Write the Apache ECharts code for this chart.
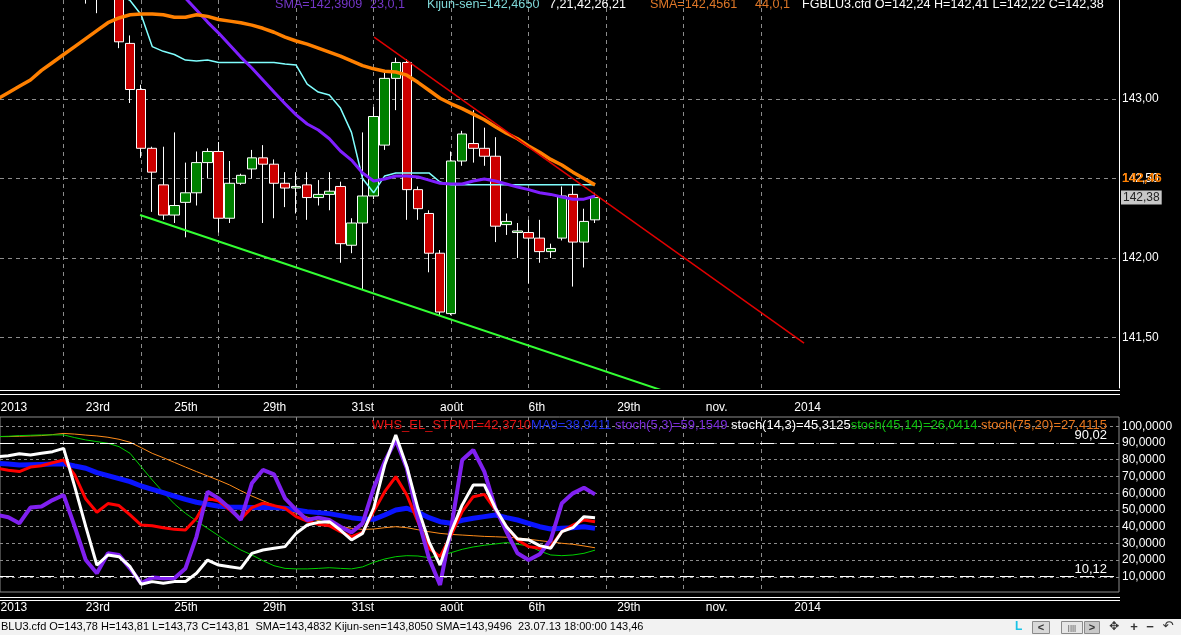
<!DOCTYPE html>
<html>
<head>
<meta charset="utf-8">
<title>FGBLU3.cfd</title>
<script src="https://cdn.jsdelivr.net/npm/echarts@6/dist/echarts.min.js"></script>
<style>
html,body{margin:0;padding:0;background:#000;overflow:hidden;}
#chart{width:1181px;height:635px;}
</style>
</head>
<body>
<div id="chart"></div>
<script>
// ================= DATA =================
// candle index (bar number) and OHLC prices
const candleK = [7,8,9,10,11,12,13,14,15,16,17,18,19,20,21,22,23,24,25,26,27,28,29,30,31,32,33,34,35,36,37,38,39,40,41,42,43,44,45,46,47,48,49,50,51,52,53];
const openP  = [143.75,143.80,143.72,143.70,143.35,143.06,142.69,142.46,142.27,142.35,142.41,142.60,142.67,142.25,142.47,142.56,142.63,142.59,142.47,142.44,142.46,142.38,142.40,142.45,142.08,142.22,142.39,142.71,143.13,143.23,142.43,142.28,142.03,141.65,142.61,142.72,142.69,142.64,142.21,142.16,142.16,142.125,142.04,142.125,142.40,142.10,142.24];
const highP  = [143.85,143.86,143.80,143.75,143.40,143.09,142.70,142.70,142.79,142.60,142.67,142.69,142.73,142.61,142.53,142.68,142.71,142.62,142.54,142.54,142.54,142.49,142.54,142.48,142.25,142.79,142.95,143.18,143.26,143.25,142.45,142.30,142.05,142.67,142.80,142.93,142.82,142.76,142.28,142.22,142.24,142.24,142.09,142.45,142.46,142.31,142.41];
const lowP   = [143.60,143.54,143.66,143.32,142.975,142.63,142.29,142.24,142.22,142.13,142.33,142.50,142.16,142.22,142.46,142.50,142.22,142.25,142.32,142.28,142.24,142.33,142.30,141.97,142.03,141.80,142.37,142.68,142.93,142.24,142.24,141.91,141.64,141.64,142.58,142.60,142.58,142.10,142.145,142.00,141.84,141.97,142.00,142.11,141.82,141.94,142.22];
const closeP = [143.80,143.72,143.70,143.36,143.06,142.69,142.54,142.27,142.33,142.41,142.60,142.67,142.25,142.47,142.52,142.63,142.59,142.47,142.44,142.45,142.38,142.40,142.42,142.09,142.22,142.39,142.89,143.13,143.23,142.43,142.31,142.03,141.66,142.61,142.78,142.69,142.64,142.20,142.23,142.17,142.125,142.04,142.06,142.39,142.10,142.23,142.38];

// SMA 44 (orange), first value at bar -1
const sma44Start = -1;
const sma44 = [143.00,143.04,143.08,143.12,143.18,143.23,143.28,143.33,143.38,143.43,143.48,143.51,143.53,143.535,143.535,143.53,143.515,143.515,143.53,143.52,143.50,143.49,143.48,143.465,143.445,143.42,143.39,143.365,143.345,143.32,143.295,143.27,143.24,143.21,143.19,143.175,143.17,143.15,143.105,143.055,143.005,142.97,142.94,142.905,142.87,142.825,142.785,142.75,142.705,142.665,142.62,142.585,142.54,142.50,142.46];

// SMA 23 (purple), first value at bar 14
const sma23Start = 14;
const sma23 = [143.79,143.71,143.635,143.56,143.484,143.415,143.34,143.264,143.195,143.12,143.044,142.97,142.90,142.843,142.805,142.75,142.673,142.616,142.535,142.484,142.497,142.516,142.516,142.51,142.49,142.47,142.465,142.465,142.484,142.497,142.484,142.465,142.446,142.43,142.41,142.40,142.384,142.37,142.37,142.39];

// Kijun-sen (cyan), first value at bar 9
const kijunStart = 9;
const kijun = [143.75,143.66,143.62,143.53,143.33,143.30,143.28,143.245,143.24,143.245,143.23,143.23,143.23,143.23,143.23,143.23,143.22,143.214,143.094,143.044,143.025,142.943,142.79,142.50,142.41,142.516,142.535,142.535,142.535,142.535,142.478,142.46,142.46,142.46,142.46,142.46,142.46,142.46,142.46,142.46,142.46,142.46,142.46,142.46,142.46];

// trend lines [bar, price]
const resistanceLine = [[33.04,143.39],[71.88,141.465]];
const supportLine = [[11.9,142.27],[62,141.098]];

// oscillators, first value at bar -1
const oscStart = -1;
const whsStpmt = [74.9,73.7,72.9,75.6,76.4,78.2,79.8,70.9,56.5,48.6,53.8,52.6,47.0,41.0,40.6,39.4,38.4,38.0,45.0,56.9,55.3,50.0,44.6,51.4,54.0,52.6,51.0,46.0,43.4,41.4,40.6,37.0,34.1,36.6,49.0,60.9,69.9,58.9,43.0,27.1,22.1,35.0,49.0,57.9,59.3,50.0,40.0,32.1,28.1,27.1,28.1,37.0,41.0,44.0,43.0];
const ma9 = [77.8,77.4,76.8,77.0,77.2,77.4,77.6,76.2,74.9,72.3,70.5,68.7,66.9,64.3,62.3,60.3,58.3,56.3,54.6,53.4,52.2,51.8,51.6,51.4,51.4,51.4,51.0,50.0,49.0,48.4,47.8,46.6,45.4,44.6,44.4,47.0,50.0,51.0,48.6,45.4,43.0,42.0,43.8,45.0,46.0,47.0,45.4,44.0,42.0,40.0,38.6,39.0,39.4,40.0,39.0];
const stoch5 = [47.0,45.6,42.0,51.4,52.0,55.9,58.9,40.0,20.1,12.2,24.1,23.1,15.1,6.2,9.6,9.2,9.2,15.1,34.1,60.9,56.9,51.0,44.0,65.9,73.9,71.3,56.9,50.0,44.0,45.4,44.0,40.0,36.6,42.0,62.9,78.8,91.8,74.9,45.0,21.1,5.2,39.0,79.8,85.8,72.9,51.0,37.0,24.1,20.1,23.5,32.1,54.0,59.9,63.3,59.3];
const stoch14 = [81.8,82.4,83.6,82.8,83.8,84.8,86.8,63.9,40.0,17.1,23.1,22.1,16.1,5.6,7.2,6.2,7.2,7.2,12.2,20.1,17.1,16.1,15.1,24.1,26.1,27.1,28.1,36.0,41.0,42.6,43.0,38.0,32.1,36.0,51.0,76.8,94.7,75.8,51.0,31.1,17.1,37.0,53.0,64.9,64.9,51.0,40.0,32.7,32.1,28.7,27.1,37.0,39.4,46.0,45.4];
const stoch45 = [93.8,94.0,94.4,94.6,94.8,94.8,94.8,93.2,91.8,90.8,89.8,87.8,83.8,75.8,67.9,60.5,53.6,48.0,43.4,39.0,34.6,30.1,26.1,23.1,19.7,16.7,15.1,14.8,14.8,15.1,15.5,15.1,14.8,16.0,18.7,20.7,22.1,22.7,22.5,21.5,22.7,24.5,26.5,27.9,28.9,29.7,30.5,29.5,28.5,25.5,23.1,22.7,23.1,24.1,26.0];
const stoch75 = [93.8,93.8,94.0,94.2,94.4,95.0,95.7,95.3,94.7,94.2,93.4,92.2,90.4,87.2,83.8,81.2,78.4,75.6,72.9,70.3,67.7,64.9,61.5,58.3,55.5,52.8,50.2,48.0,45.8,43.6,41.8,40.2,39.0,38.4,38.6,39.4,40.0,39.4,38.2,37.0,36.0,35.4,35.0,34.6,34.2,34.0,33.7,33.3,32.5,31.7,30.9,30.1,29.5,28.5,27.4];
const oscLevels = [90.02, 10.12];

// ticks / labels
const dateTickK = [5,12,19,26,33,40,47,54,61,68];
const dateLabelK = [-0.7,7,15,23,31,39,47,55,63,71];
const dateLabels = ['2013','23rd','25th','29th','31st','août','6th','29th','nov.','2014'];
const priceTicks = [141.5,142,142.5,143];
const oscTicks = [10,20,30,40,50,60,70,80,90,100];

// ================= CHART =================
const X_MIN = -0.75, X_MAX = 100.33;
const FONT = '"Liberation Sans", Arial, sans-serif';
const toPairs = (start, arr) => arr.map((v, i) => [start + i, v]);
const comma = (v, d) => v.toFixed(d).replace('.', ',');

function xAxisFor(gridIndex, margin) {
  return {
    type: 'value', gridIndex, min: X_MIN, max: X_MAX,
    axisLine: {show: false, onZero: false},
    axisTick: {show: false, customValues: dateTickK},
    axisLabel: {
      customValues: dateLabelK, color: '#fff', fontSize: 12, fontFamily: FONT,
      align: 'left', margin,
      formatter: v => { const i = dateLabelK.indexOf(v); return i >= 0 ? dateLabels[i] : ''; }
    },
    splitLine: {show: true, lineStyle: {color: '#8c8c8c', width: 1, type: [4, 4]}}
  };
}

const chart = echarts.init(document.getElementById('chart'), null, {renderer: 'canvas', width: 1181, height: 635});

const lineS = (name, xi, data, color, width, extra) => Object.assign({
  type: 'line', name, xAxisIndex: xi, yAxisIndex: xi, data,
  showSymbol: false, symbol: 'none', clip: true, silent: true,
  lineStyle: {color, width}
}, extra || {});

const option = {
  backgroundColor: '#000',
  animation: false,
  grid: [
    {left: 0, top: 0, width: 1119, height: 388, containLabel: false, outerBoundsMode: 'none'},
    {left: 0, top: 417, width: 1119, height: 175, show: true, borderColor: '#8c8c8c', borderWidth: 1,
     backgroundColor: 'rgba(0,0,0,0)', containLabel: false, outerBoundsMode: 'none'}
  ],
  xAxis: [xAxisFor(0, 14), xAxisFor(1, 10)],
  yAxis: [
    {type: 'value', gridIndex: 0, position: 'right', min: 141.182, max: 143.623, scale: true,
     axisLine: {show: true, onZero: false, lineStyle: {color: '#ffffff', width: 1}},
     axisTick: {show: false, customValues: priceTicks},
     axisLabel: {customValues: priceTicks, color: '#fff', fontSize: 12, fontFamily: FONT, margin: 3,
                 formatter: v => comma(v, 2)},
     splitLine: {show: true, lineStyle: {color: '#8c8c8c', width: 1, type: [4, 4]}}},
    {type: 'value', gridIndex: 1, position: 'right', min: 1, max: 105.5,
     axisLine: {show: false, onZero: false},
     axisTick: {show: false, customValues: oscTicks},
     axisLabel: {customValues: oscTicks, color: '#fff', fontSize: 12, fontFamily: FONT, margin: 3,
                 formatter: v => comma(v, 4)},
     splitLine: {show: true, lineStyle: {color: '#8c8c8c', width: 1, type: [3, 3]}}}
  ],
  series: [
    {type: 'candlestick', name: 'FGBLU3.cfd', xAxisIndex: 0, yAxisIndex: 0, clip: true, silent: true,
     encode: {x: 0, y: [1, 2, 3, 4]},
     barWidth: 10,
     data: candleK.map((k, i) => [k, openP[i], closeP[i], lowP[i], highP[i]]),
     itemStyle: {color: '#008000', color0: '#CC0000', borderColor: '#ffffff', borderColor0: '#ffffff', borderWidth: 1}},
    lineS('Kijun-sen', 0, toPairs(kijunStart, kijun), '#80FFFF', 1.5),
    lineS('SMA 23', 0, toPairs(sma23Start, sma23), '#7F1FFF', 3),
    lineS('SMA 44', 0, toPairs(sma44Start, sma44), '#FF8000', 3.5),
    lineS('resistance', 0, resistanceLine, '#E00000', 1.5),
    lineS('support', 0, supportLine, '#33FF33', 2),

    lineS('stoch(75,20)', 1, toPairs(oscStart, stoch75), '#FF8C1A', 1),
    lineS('stoch(45,14)', 1, toPairs(oscStart, stoch45), '#00D000', 1),
    lineS('MA9', 1, toPairs(oscStart, ma9), '#0A14FF', 5),
    lineS('WHS_EL_STPMT', 1, toPairs(oscStart, whsStpmt), '#FF0000', 3),
    lineS('stoch(5,3)', 1, toPairs(oscStart, stoch5), '#8020F0', 4),
    lineS('stoch(14,3)', 1, toPairs(oscStart, stoch14), '#FFFFFF', 3, {
      markLine: {
        silent: true, symbol: ['none', 'none'],
        lineStyle: {color: '#ffffff', width: 1, type: [14, 6]},
        label: {position: 'insideEndTop', color: '#fff', fontSize: 13, fontFamily: FONT, distance: [12, 1],
                formatter: p => comma(p.value, 2)},
        data: oscLevels.map(v => ({yAxis: v}))
      }
    })
  ]
};
chart.setOption(option);

// ---------- texts / chrome ----------
function T(x, y, text, fill, font, extra) {
  return {type: 'text', x, y, silent: true, z: 100,
    style: Object.assign({text, fill, font, textAlign: 'left', align: 'left',
      textVerticalAlign: 'middle', verticalAlign: 'middle'}, extra || {})};
}
const F13 = '13px ' + FONT, F12 = '12px ' + FONT, F11 = '11px ' + FONT, FTOP = '12.6px ' + FONT;
const lastClose = closeP[closeP.length - 1];
const lastSma = sma44[sma44.length - 1];
const yClose = chart.convertToPixel({gridIndex: 0}, [X_MAX, lastClose])[1];
const ySma = chart.convertToPixel({gridIndex: 0}, [X_MAX, lastSma])[1];

const legendRich = {
  r: {fill: '#E01010', font: F13},
  b: {fill: '#1E2EE8', font: F13},
  p: {fill: '#7A2CD8', font: F13},
  w: {fill: '#FFFFFF', font: F13},
  g: {fill: '#10C010', font: F13},
  o: {fill: '#E8761C', font: F13}
};

const graphics = [
  // separators
  {type: 'line', silent: true, shape: {x1: 0, y1: 390.5, x2: 1120, y2: 390.5}, style: {stroke: '#fff', lineWidth: 1}},
  {type: 'line', silent: true, shape: {x1: 0, y1: 394.5, x2: 1120, y2: 394.5}, style: {stroke: '#fff', lineWidth: 1}},
  {type: 'line', silent: true, shape: {x1: 0, y1: 597.5, x2: 1120, y2: 597.5}, style: {stroke: '#fff', lineWidth: 1}},
  {type: 'line', silent: true, shape: {x1: 0, y1: 600.5, x2: 1120, y2: 600.5}, style: {stroke: '#fff', lineWidth: 1}},
  // top legend
  T(275, 5, 'SMA=142,3909', '#7436C8', FTOP),
  T(370, 5, '23,0,1', '#7436C8', FTOP),
  T(427, 5, 'Kijun-sen=142,4650', '#7FD8D8', FTOP),
  T(549, 5, '7,21,42,26,21', '#FFFFFF', FTOP),
  T(650, 5, 'SMA=142,4561', '#E07828', FTOP),
  T(755, 5, '44,0,1', '#E07828', FTOP),
  T(802, 5, 'FGBLU3.cfd O=142,24 H=142,41 L=142,22 C=142,38', '#FFFFFF', FTOP),
  // price-axis value flags
  T(1122, ySma, comma(lastSma, 2), '#FF8000', 'bold 13px ' + FONT, {textVerticalAlign: 'bottom', verticalAlign: 'bottom'}),
  T(1121, yClose, comma(lastClose, 2), '#222222', F12, {backgroundColor: '#C8C8C8', padding: [1, 2, 1, 2]}),
  // oscillator legend
  {type: 'text', x: 1107, y: 425, silent: true, z: 100,
   style: {text: '{r|WHS_EL_STPMT=42,3710}{b|MA9=38,9411} {p|stoch(5,3)=59,1549} {w|stoch(14,3)=45,3125}{g|stoch(45,14)=26,0414} {o|stoch(75,20)=27,4115}',
           rich: legendRich, font: F13, textAlign: 'right', align: 'right', textVerticalAlign: 'middle', verticalAlign: 'middle'}},
  // status bar
  {type: 'rect', silent: true, shape: {x: 0, y: 619, width: 1181, height: 16}, style: {fill: '#F2F2F2'}},
  T(1, 627, 'BLU3.cfd O=143,78 H=143,81 L=143,73 C=143,81  SMA=143,4832 Kijun-sen=143,8050 SMA=143,9496  23.07.13 18:00:00 143,46', '#000000', F11),
  T(1015, 627, 'L', '#19C3E6', 'bold 12px ' + FONT),
  {type: 'rect', silent: true, shape: {x: 1032.5, y: 621.5, width: 17, height: 12}, style: {fill: '#D8D8D8', stroke: '#8A8A8A', lineWidth: 1}},
  T(1041, 627.5, '<', '#333', 'bold 11px ' + FONT, {textAlign: 'center', align: 'center'}),
  {type: 'rect', silent: true, shape: {x: 1061.5, y: 621.5, width: 21, height: 12}, style: {fill: '#E6E6E6', stroke: '#8A8A8A', lineWidth: 1}},
  T(1072, 627.5, '||||', '#444', '8px ' + FONT, {textAlign: 'center', align: 'center'}),
  {type: 'rect', silent: true, shape: {x: 1084.5, y: 621.5, width: 15, height: 12}, style: {fill: '#C8C8C8', stroke: '#8A8A8A', lineWidth: 1}},
  T(1092, 627.5, '>', '#333', 'bold 11px ' + FONT, {textAlign: 'center', align: 'center'}),
  T(1114, 627, '✥', '#333', '12px "DejaVu Sans"', {textAlign: 'center', align: 'center'}),
  T(1134, 627, '+', '#333', 'bold 13px ' + FONT, {textAlign: 'center', align: 'center'}),
  T(1150, 627, '−', '#333', 'bold 13px ' + FONT, {textAlign: 'center', align: 'center'}),
  T(1168, 627, '↶', '#333', '13px "DejaVu Sans"', {textAlign: 'center', align: 'center'})
];
chart.setOption({graphic: {elements: graphics}});
</script>
</body>
</html>
